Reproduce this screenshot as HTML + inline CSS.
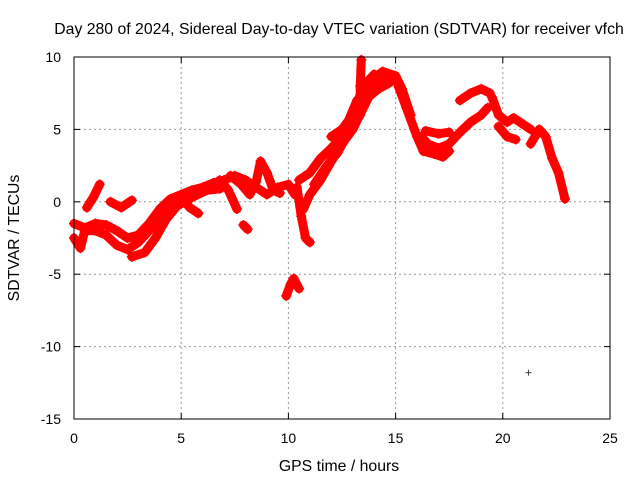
<!DOCTYPE html>
<html><head><meta charset="utf-8"><style>
body{margin:0;background:#fff}
svg{display:block;font-family:"Liberation Sans",Arial,sans-serif;font-size:14px}
.tt{font-size:15.8px}
</style></head><body>
<svg id="chart" width="640" height="480">
<text class="tt" x="339" y="34" text-anchor="middle">Day 280 of 2024, Sidereal Day-to-day VTEC variation (SDTVAR) for receiver vfch</text>
<text class="tt" x="339" y="471" text-anchor="middle">GPS time / hours</text>
<text class="tt" transform="translate(19,238) rotate(-90)" text-anchor="middle">SDTVAR / TECUs</text>
<g id="grid"></g><g id="marks"></g><g id="axes"></g>
</svg>
<script>
const xTicks=[0,5,10,15,20,25];
const yTicks=[-15,-10,-5,0,5,10];
const trackA=[[0,-1.5],[0.5,-1.8],[1,-1.5],[1.5,-1.6],[2,-2],[2.5,-2.5],[3,-2.3],[3.5,-1.5],[4,-0.5],[4.5,0.2],[5,0.5],[5.5,0.8],[6,1],[6.5,1.3],[7,1.5],[7.5,1.8],[8,1.5],[8.5,1],[9,0.5],[9.5,1],[10,1.2],[10.3,0.5]];
const trackB=[[2.7,-3.8],[3.3,-3.5],[3.8,-2.5],[4.3,-1.2],[4.8,-0.3],[5.5,0.3],[6.2,0.8],[6.8,0.9]];
const trackC=[[0,-2.5],[0.3,-3.2],[0.5,-2],[1,-2],[1.5,-2.3],[2,-3],[2.5,-3.3],[3,-2.8],[3.5,-2],[4,-1],[4.5,-0.3],[5,0.3],[5.4,-0.4],[5.8,-0.8]];
const trackD1=[[0.6,-0.4],[0.9,0.3],[1.2,1.2]];
const trackD2=[[1.7,0],[2.2,-0.4],[2.7,0.1]];
const trackE=[[6.8,1.5],[7.2,0.8],[7.6,-0.5]];
const trackE2=[[7.3,1.8],[7.8,1.2],[8.2,0.5],[8.5,1.4],[8.7,2.8],[9,2],[9.3,0.8],[9.6,0.6]];
const trackE3=[[7.9,-1.6],[8.1,-1.9]];
const trackF=[[9.9,-6.5],[10.1,-5.7],[10.25,-5.3],[10.5,-6]];
const trackG1=[[10.4,1],[10.6,-1],[10.8,-2.5],[11,-2.8]];
const trackG2=[[10.7,-0.5],[11,0.5],[11.5,1.5],[12,2.8],[12.5,4],[13,5],[13.5,6.5],[14,8],[14.5,8.8],[15,8.5],[15.5,6.5],[16,4.5],[16.3,3.5]];
const trackG3=[[10.5,1.5],[11,2],[11.5,3],[12,3.7],[12.5,4.5],[13,6],[13.5,8],[14,8.8],[14.5,8.5]];
const trackG5=[[11.2,1.2],[11.8,2.5],[12.3,3.4],[12.8,4.8],[13.3,6.8],[13.8,8.3],[14.4,9],[15,8.7],[15.3,7.8],[15.7,6]];
const trackG6=[[12,4.5],[12.5,5],[12.8,5.6],[13.2,7],[13.7,7.2],[14.2,7.8],[14.7,8.2]];
const trackG4=[[13.35,6],[13.35,8],[13.4,9.8]];
const trackH1=[[16.2,4.5],[16.5,4],[17,3.7],[17.5,4],[18,4.8],[18.5,5.5],[19,6],[19.3,6.5]];
const trackH2=[[16.3,3.5],[16.8,3.3],[17.2,3.1],[17.5,3.5]];
const trackH3=[[16.4,4.9],[17,4.7],[17.5,4.8]];
const trackI1=[[18,7],[18.5,7.5],[19,7.8],[19.4,7.5]];
const trackI2=[[19.5,7.2],[19.8,6],[20.2,5.5],[20.5,5.8],[21,5.3],[21.3,5]];
const trackI3=[[19.8,5.2],[20.2,4.5],[20.6,4.3]];
const trackI4=[[21.3,4],[21.7,5],[22,4.5],[22.3,3],[22.6,2],[22.9,0.2]];
const outliers=[[21.2,-11.8]];
const tracks=[trackA,trackB,trackC,trackD1,trackD2,trackE,trackE2,trackE3,trackF,trackG1,trackG2,trackG3,trackG5,trackG6,trackG4,trackH1,trackH2,trackH3,trackI1,trackI2,trackI3,trackI4];
const L=74,R=610,T=57,B=419;
function sx(h){return L+(h-0)/25*(R-L);}
function sy(v){return T+(10-v)/25*(B-T);}
const NS='http://www.w3.org/2000/svg';
const grid=document.getElementById('grid'),marks=document.getElementById('marks'),axes=document.getElementById('axes');
function mk(tag,attrs,parent){const e=document.createElementNS(NS,tag);for(const k in attrs)e.setAttribute(k,attrs[k]);parent.appendChild(e);return e;}
xTicks.forEach(t=>{
 if(t>0&&t<25){const g=mk('line',{x1:sx(t),x2:sx(t),y1:T,y2:B,stroke:'#999','stroke-dasharray':'2,3'},grid);
 
 }
 const tx=mk('text',{x:sx(t),y:B+24,'text-anchor':'middle'},axes);tx.textContent=t;
 
 
 mk('line',{x1:sx(t),x2:sx(t),y1:B,y2:B-6,stroke:'#000'},axes);
 mk('line',{x1:sx(t),x2:sx(t),y1:T,y2:T+6,stroke:'#000'},axes);
});
yTicks.forEach(t=>{
 if(t>-15&&t<10){const g=mk('line',{x1:L,x2:R,y1:sy(t),y2:sy(t),stroke:'#999','stroke-dasharray':'2,3'},grid);
 
 }
 const tx=mk('text',{x:L-13,y:sy(t)+5,'text-anchor':'end'},axes);tx.textContent=t;
 
 
 mk('line',{x1:L,x2:L+6,y1:sy(t),y2:sy(t),stroke:'#000'},axes);
 mk('line',{x1:R,x2:R-6,y1:sy(t),y2:sy(t),stroke:'#000'},axes);
});
const frame=mk('rect',{x:L,y:T,width:R-L,height:B-T,fill:'none',stroke:'#000'},axes);


tracks.forEach(tr=>{
 const p=mk('polyline',{points:tr.map(d=>sx(d[0])+','+sy(d[1])).join(' '),fill:'none',stroke:'#f00','stroke-width':9,'stroke-linejoin':'round','stroke-linecap':'round'},marks);
 
 
 tr.forEach(d=>{const x=sx(d[0]),y=sy(d[1]);
  const m=mk('path',{d:`M${x-5},${y}H${x+5}M${x},${y-5}V${y+5}`,stroke:'#f00','stroke-width':1.5},marks);
  
  });
});
outliers.forEach(d=>{const x=sx(d[0]),y=sy(d[1]);
 const m=mk('path',{d:`M${x-3},${y}H${x+3}M${x},${y-3}V${y+3}`,stroke:'#444','stroke-width':1},marks);
 
 });
</script>
</body></html>
